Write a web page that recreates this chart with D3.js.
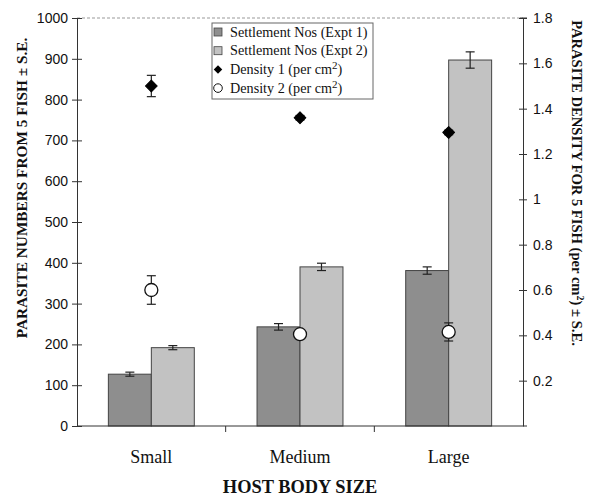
<!DOCTYPE html>
<html>
<head>
<meta charset="utf-8">
<script src="https://cdn.jsdelivr.net/npm/d3@7"></script>
<style>
  body { margin: 0; background: #fff; }
  text { fill: #111; }
</style>
</head>
<body>
<div id="chart"></div>
<script>
var categories = ["Small", "Medium", "Large"];
var expt1 = [127, 243, 381];
var expt1Err = [5, 8, 9];
var expt2 = [192, 390, 897];
var expt2Err = [5, 9, 20];
var density1 = [1.50, 1.36, 1.295];
var density1Err = [0.047, 0.01, 0.01];
var density2 = [0.60, 0.405, 0.415];
var density2Err = [0.063, 0.01, 0.04];
var leftTicks = [0, 100, 200, 300, 400, 500, 600, 700, 800, 900, 1000];
var rightTicks = [0.2, 0.4, 0.6, 0.8, 1, 1.2, 1.4, 1.6, 1.8];
var seriesNames = ["Expt 1", "Expt 2"];

var width = 590, height = 496;
var pLeft = 77, pRight = 523, pTop = 18, pBottom = 426;

var svg = d3.select("#chart").append("svg")
    .attr("width", width)
    .attr("height", height);

var x = d3.scaleBand().domain(categories).range([pLeft, pRight]).padding(0);
var xSub = d3.scaleBand().domain(seriesNames)
    .range([0, x.bandwidth()]).paddingOuter(0.73).paddingInner(0);
var yL = d3.scaleLinear().domain([0, 1000]).range([pBottom, pTop]);
var yR = d3.scaleLinear().domain([0, 1.8]).range([pBottom, pTop]);

var sans = "Liberation Sans, Arial, sans-serif";
var serif = "Liberation Serif, Times New Roman, serif";

// top border (dashed, light)
svg.append("line")
    .attr("x1", pLeft).attr("x2", pRight).attr("y1", pTop).attr("y2", pTop)
    .attr("stroke", "#999").attr("stroke-dasharray", "3,2");

// bars
var barData = [];
categories.forEach(function(c, i) {
  barData.push({cat: c, s: "Expt 1", v: expt1[i], e: expt1Err[i], color: "#8e8e8e"});
  barData.push({cat: c, s: "Expt 2", v: expt2[i], e: expt2Err[i], color: "#c2c2c2"});
});

var bars = svg.append("g");
bars.selectAll("rect").data(barData).enter().append("rect")
    .attr("x", function(d) { return x(d.cat) + xSub(d.s); })
    .attr("y", function(d) { return yL(d.v); })
    .attr("width", xSub.bandwidth())
    .attr("height", function(d) { return pBottom - yL(d.v); })
    .attr("fill", function(d) { return d.color; })
    .attr("stroke", "#444").attr("stroke-width", 1);

function errBar(g, cx, yTop, yBot) {
  g.append("line").attr("x1", cx).attr("x2", cx).attr("y1", yTop).attr("y2", yBot)
      .attr("stroke", "#222").attr("stroke-width", 1.2);
  [yTop, yBot].forEach(function(yy) {
    g.append("line").attr("x1", cx - 4.5).attr("x2", cx + 4.5).attr("y1", yy).attr("y2", yy)
        .attr("stroke", "#222").attr("stroke-width", 1.2);
  });
}

var errs = svg.append("g");
barData.forEach(function(d) {
  var cx = x(d.cat) + xSub(d.s) + xSub.bandwidth() / 2;
  errBar(errs, cx, yL(d.v + d.e), yL(d.v - d.e));
});

// left axis
var axL = svg.append("g").attr("transform", "translate(" + pLeft + ",0)")
    .call(d3.axisLeft(yL).tickValues(leftTicks).tickFormat(d3.format("d"))
      .tickSizeInner(5).tickSizeOuter(0).tickPadding(5));
axL.selectAll(".tick line").attr("x2", 5).attr("x1", -5).attr("stroke", "#333");
axL.select(".domain").attr("stroke", "#333");
axL.selectAll("text").attr("font-family", sans).attr("font-size", 14).attr("fill", "#222").attr("x", -9);

// right axis
var axR = svg.append("g").attr("transform", "translate(" + pRight + ",0)")
    .call(d3.axisRight(yR).tickValues(rightTicks).tickFormat(d3.format("~g"))
      .tickSizeInner(4).tickSizeOuter(0).tickPadding(6));
axR.selectAll(".tick line").attr("x1", -4).attr("x2", 4).attr("stroke", "#333");
axR.select(".domain").attr("stroke", "#333");
axR.selectAll("text").attr("font-family", sans).attr("font-size", 14).attr("fill", "#222").attr("x", 10);
axR.append("line").attr("x1", -3).attr("x2", 4).attr("y1", pTop).attr("y2", pTop).attr("stroke", "#333");

// bottom axis
var axB = svg.append("g").attr("transform", "translate(0," + pBottom + ")");
axB.append("line").attr("x1", pLeft).attr("x2", pRight + 4).attr("stroke", "#333");
axB.selectAll(".sep").data(categories.slice(1)).enter().append("line")
    .attr("x1", function(d) { return x(d); }).attr("x2", function(d) { return x(d); })
    .attr("y1", 0).attr("y2", 6).attr("stroke", "#333");
axB.selectAll(".lab").data(categories).enter().append("text")
    .attr("x", function(d) { return x(d) + x.bandwidth() / 2; })
    .attr("y", 37)
    .attr("text-anchor", "middle")
    .attr("font-family", serif).attr("font-size", 18)
    .text(function(d) { return d; });

// density markers (square diamond)
var diamond = d3.symbol().type(d3.symbolSquare).size(70);
var pts = svg.append("g");
categories.forEach(function(c, i) {
  var cx = x(c) + x.bandwidth() / 2;
  errBar(pts, cx, yR(density1[i] + density1Err[i]), yR(density1[i] - density1Err[i]));
  errBar(pts, cx, yR(density2[i] + density2Err[i]), yR(density2[i] - density2Err[i]));
  pts.append("path").attr("d", diamond)
      .attr("transform", "translate(" + cx + "," + yR(density1[i]) + ") rotate(45)")
      .attr("fill", "#000").attr("stroke", "#000").attr("stroke-width", 1).attr("stroke-linejoin", "round");
  pts.append("circle").attr("cx", cx).attr("cy", yR(density2[i])).attr("r", 6.5)
      .attr("fill", "#fff").attr("stroke", "#111").attr("stroke-width", 1.3);
});

// legend
var lg = svg.append("g");
lg.append("rect").attr("x", 212).attr("y", 23).attr("width", 161).attr("height", 76)
    .attr("fill", "#fff").attr("stroke", "#666");
var legendRows = [
  {label: "Settlement Nos (Expt 1)", type: "sq", color: "#8e8e8e"},
  {label: "Settlement Nos (Expt 2)", type: "sq", color: "#c2c2c2"},
  {label: "Density 1 (per cm", type: "dia"},
  {label: "Density 2 (per cm", type: "circ"}
];
legendRows.forEach(function(r, i) {
  var yy = 32 + i * 18.7;
  if (r.type === "sq") {
    lg.append("rect").attr("x", 214).attr("y", yy - 4).attr("width", 8).attr("height", 8)
        .attr("fill", r.color).attr("stroke", "#444").attr("stroke-width", 0.8);
  } else if (r.type === "dia") {
    lg.append("path").attr("d", d3.symbol().type(d3.symbolSquare).size(36))
        .attr("transform", "translate(218," + yy + ") rotate(45)").attr("fill", "#000");
  } else {
    lg.append("circle").attr("cx", 218).attr("cy", yy).attr("r", 4.3)
        .attr("fill", "#fff").attr("stroke", "#111");
  }
  var t = lg.append("text").attr("x", 230).attr("y", yy + 4.5)
      .attr("font-family", serif).attr("font-size", 14.2);
  t.append("tspan").text(r.label);
  if (r.type !== "sq") {
    t.append("tspan").attr("dy", -5).attr("font-size", 11).text("2");
    t.append("tspan").attr("dy", 5).text(")");
  }
});

// axis titles
svg.append("text")
    .attr("transform", "translate(27,188) rotate(-90)")
    .attr("text-anchor", "middle")
    .attr("font-family", serif).attr("font-weight", "bold").attr("font-size", 15.3)
    .text("PARASITE NUMBERS FROM 5 FISH \u00b1 S.E.");

var rt = svg.append("text")
    .attr("transform", "translate(572,183) rotate(90)")
    .attr("text-anchor", "middle")
    .attr("font-family", serif).attr("font-weight", "bold").attr("font-size", 14.6);
rt.append("tspan").text("PARASITE DENSITY FOR 5 FISH  (per cm");
rt.append("tspan").attr("dy", -5).attr("font-size", 10).text("2");
rt.append("tspan").attr("dy", 5).text(") \u00b1 S.E.");

svg.append("text")
    .attr("x", (pLeft + pRight) / 2).attr("y", 493)
    .attr("text-anchor", "middle")
    .attr("font-family", serif).attr("font-weight", "bold").attr("font-size", 18.4)
    .text("HOST BODY SIZE");
</script>
</body>
</html>
